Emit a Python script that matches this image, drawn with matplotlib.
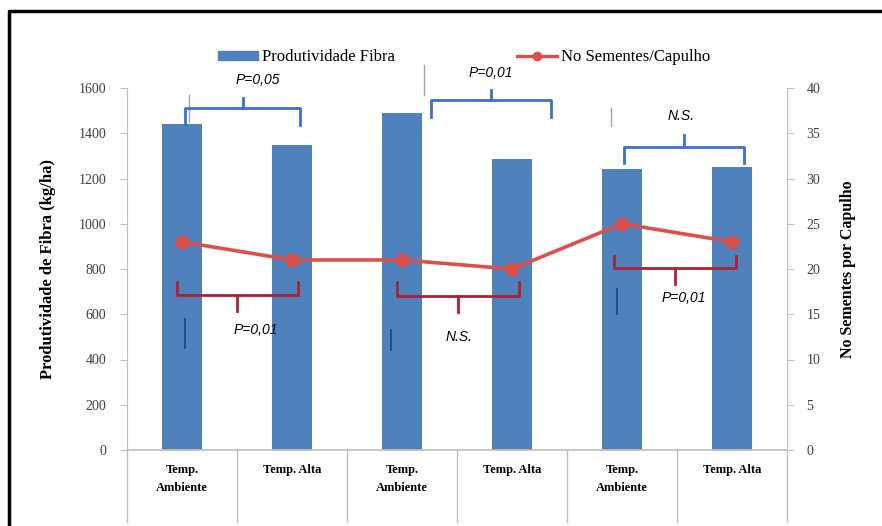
import matplotlib
matplotlib.use('Agg')
import matplotlib.pyplot as plt
from matplotlib.lines import Line2D
from matplotlib.patches import Patch

plt.rcParams['font.family'] = ['Liberation Serif', 'DejaVu Serif']

# Dados: produtividade de fibra e número de sementes por capulho
categorias = ['Temp.\nAmbiente', 'Temp. Alta', 'Temp.\nAmbiente', 'Temp. Alta',
              'Temp.\nAmbiente', 'Temp. Alta']
produtividade = [1440, 1350, 1490, 1285, 1240, 1250]
sementes = [23, 21, 21, 20, 25, 23]

# Comparações (primeira barra do par, texto)
comp_fibra = [(0, 'P=0,05'), (2, 'P=0,01'), (4, 'N.S.')]
comp_sementes = [(0, 'P=0,01'), (2, 'N.S.'), (4, 'P=0,01')]

cor_barra = '#4F81BD'
cor_linha = '#DB5048'
cor_chave_azul = '#3D70C6'
cor_chave_verm = '#B0202E'

fig = plt.figure(figsize=(8.82, 5.26), dpi=100)
ax = fig.add_axes([127 / 882, 1 - 450 / 526, 660 / 882, 362 / 526])
ax2 = ax.twinx()

x = list(range(len(categorias)))
ax.bar(x, produtividade, width=0.37, color=cor_barra, zorder=2)
ax2.plot(x, sementes, color=cor_linha, lw=2.6, marker='o', ms=9, zorder=3)

ax.set_xlim(-0.5, 5.5)
ax.set_ylim(0, 1600)
ax2.set_ylim(0, 40)
ax.set_yticks(range(0, 1601, 200))
ax2.set_yticks(range(0, 41, 5))
ax.set_xticks([])

for a in (ax, ax2):
    for s in a.spines.values():
        s.set_visible(False)
    a.tick_params(axis='y', labelsize=10, colors='#404040', length=5, color='#BFBFBF')
ax.tick_params(axis='y', pad=10)
ax2.tick_params(axis='y', pad=9)
ax.spines['left'].set_visible(True)
ax.spines['left'].set_color('#BFBFBF')
ax2.spines['right'].set_visible(True)
ax2.spines['right'].set_color('#BFBFBF')
ax.spines['bottom'].set_visible(True)
ax.spines['bottom'].set_color('#BFBFBF')
ax.spines['bottom'].set_linewidth(1.2)
ax.set_zorder(ax2.get_zorder() - 1)
ax.patch.set_visible(False)

ax.set_ylabel('Produtividade de Fibra (kg/ha)', fontsize=12, fontweight='bold', labelpad=16)
ax2.set_ylabel('No Sementes por Capulho', fontsize=11.5, fontweight='bold', labelpad=14)

# Rótulos das categorias e divisórias abaixo do eixo
trans = ax.get_xaxis_transform()
for i, nome in enumerate(categorias):
    ax.text(i, -0.04, nome, transform=trans, ha='center', va='top',
            fontsize=9, fontweight='bold', linespacing=1.6)
for b in [i - 0.5 for i in range(len(categorias) + 1)]:
    ax.plot([b, b], [0, -0.2], transform=trans, color='#BFBFBF', lw=1, clip_on=False)


def chave(a, x0, x1, y_ponta, y_barra, y_bico, cor):
    xm = (x0 + x1) / 2
    a.plot([x0, x0, x1, x1], [y_ponta, y_barra, y_barra, y_ponta],
           color=cor, lw=2, clip_on=False, zorder=4)
    a.plot([xm, xm], [y_barra, y_bico], color=cor, lw=2, clip_on=False, zorder=4)


# Chaves azuis (produtividade)
niveis_azul = [(0.03, 1.07, 1436, 1512, 1556, 1635, 0.69),
               (0.26, 1.35, 1472, 1547, 1591, 1666, 0.81),
               (0.02, 1.11, 1268, 1339, 1392, 1476, 0.54)]
for (i, txt), (d0, d1, yp, yb, yt, ytx, dx) in zip(comp_fibra, niveis_azul):
    chave(ax, i + d0, i + d1, yp, yb, yt, cor_chave_azul)
    ax.text(i + dx, ytx, txt, ha='center', va='center', fontsize=10,
            style='italic', family=['Liberation Sans Narrow', 'Liberation Sans'],
            clip_on=False)

# Chaves vermelhas (sementes)
niveis_verm = [(-0.05, 1.05, 18.6, 17.1, 15.4, 13.3, 0.67),
               (-0.05, 1.06, 18.6, 17.0, 15.2, 12.5, 0.52),
               (-0.07, 1.04, 21.4, 20.1, 18.3, 16.8, 0.56)]
for (i, txt), (d0, d1, yp, yb, yt, ytx, dx) in zip(comp_sementes, niveis_verm):
    chave(ax2, i + d0, i + d1, yp, yb, yt, cor_chave_verm)
    ax2.text(i + dx, ytx, txt, ha='center', va='center', fontsize=10,
             style='italic', family=['Liberation Sans Narrow', 'Liberation Sans'])

# Traços finos soltos
for xi, y0, y1 in [(0.06, 1450, 1570), (2.2, 1570, 1700), (3.9, 1430, 1510)]:
    ax.plot([xi, xi], [y0, y1], color='#A6A6A6', lw=1, clip_on=False)
for xi, y0, y1 in [(0.03, 450, 580), (1.9, 440, 530), (3.95, 600, 710)]:
    ax.plot([xi, xi], [y0, y1], color='#1F3F7A', lw=1.2)

# Legenda
handles = [Patch(color=cor_barra),
           Line2D([], [], color=cor_linha, lw=2.4, marker='o', ms=6)]
fig.legend(handles, ['Produtividade Fibra', 'No Sementes/Capulho'], loc='center',
           bbox_to_anchor=(464 / 882, 1 - 57 / 526), ncol=2, frameon=False,
           fontsize=12, handlelength=2.4, handleheight=0.45, columnspacing=7.3,
           handletextpad=0.25)

# Moldura
fig.add_artist(Line2D([9 / 882, 9 / 882, 1], [0, 1 - 11 / 526, 1 - 11 / 526],
                      color='black', lw=2.5, transform=fig.transFigure))

fig.savefig('out.png', dpi=100)
